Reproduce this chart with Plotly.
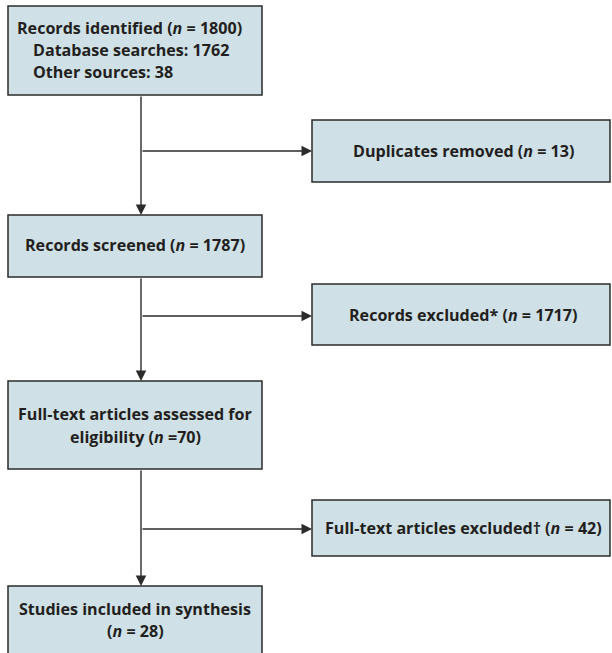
import plotly.graph_objects as go

# ---- data ----
stage_labels = ["Records identified", "Duplicates removed", "Records screened",
                "Records excluded*", "Full-text articles assessed for eligibility",
                "Full-text articles excluded\u2020", "Studies included in synthesis"]
stage_counts = [1800, 13, 1787, 1717, 70, 42, 28]
source_labels = ["Database searches", "Other sources"]
source_counts = [1762, 38]

# ---- layout geometry (pixel coordinates of the page) ----
W, H = 612, 653
FILL = "#cfe1e6"
EDGE = "#2b2b2b"
FONT = "Open Sans"
FS = 16.1
TXT = "#231f20"

main_boxes = [(8, 6, 262, 95), (8, 215, 262, 277), (8, 381, 262, 469), (8, 586, 262, 670)]
side_boxes = [(312, 120, 610, 182), (312, 284, 610, 345), (312, 500, 610, 556)]
trunk_x = 141
branch_y = [151, 316, 529]

fig = go.Figure()
fig.add_trace(go.Scatter(x=[0, W], y=[0, H], mode="markers", marker=dict(opacity=0),
                         hoverinfo="skip", showlegend=False))

for (x0, y0, x1, y1) in main_boxes + side_boxes:
    fig.add_shape(type="rect", x0=x0, y0=y0, x1=x1, y1=y1, xref="x", yref="y",
                  fillcolor=FILL, line=dict(color=EDGE, width=1.5), layer="below")

def ntext(n, sp=" "):
    return f"(<i>n</i> ={sp}{n})"

def txt(x, y, s, xanchor="center"):
    fig.add_annotation(x=x, y=y, xref="x", yref="y", text=f"<b>{s}</b>", showarrow=False,
                       xanchor=xanchor, yanchor="middle",
                       font=dict(family=FONT, size=FS, color=TXT))

# Box 1
txt(15, 28, f"{stage_labels[0]} {ntext(stage_counts[0])}", "left")
txt(31, 50, f"{source_labels[0]}: {source_counts[0]}", "left")
txt(31, 72, f"{source_labels[1]}: {source_counts[1]}", "left")
# Side boxes
txt(463, 151, f"{stage_labels[1]} {ntext(stage_counts[1])}")
txt(463, 315, f"{stage_labels[3]} {ntext(stage_counts[3])}")
txt(463, 528, f"{stage_labels[5]} {ntext(stage_counts[5])}")
# Main boxes
txt(135, 245, f"{stage_labels[2]} {ntext(stage_counts[2])}")
words = stage_labels[4].split(" ")
txt(135, 414, " ".join(words[:-1]))
txt(135, 437, f"{words[-1]} {ntext(stage_counts[4], '')}")
txt(135, 609, stage_labels[6])
txt(135, 631, ntext(stage_counts[6]))

def arrow(x0, y0, x1, y1):
    fig.add_annotation(x=x1, y=y1, ax=x0, ay=y0, xref="x", yref="y", axref="x", ayref="y",
                       text="", showarrow=True, arrowhead=2, arrowsize=1.5, arrowwidth=1.4,
                       arrowcolor=EDGE, standoff=0, startstandoff=0)

for i in range(3):
    arrow(trunk_x, main_boxes[i][3], trunk_x, main_boxes[i + 1][1])
for i in range(3):
    arrow(trunk_x, branch_y[i], side_boxes[i][0], branch_y[i])

fig.update_layout(width=W, height=H, margin=dict(l=0, r=0, t=0, b=0),
                  paper_bgcolor="white", plot_bgcolor="white",
                  xaxis=dict(range=[0, W], visible=False, fixedrange=True),
                  yaxis=dict(range=[H, 0], visible=False, fixedrange=True),
                  showlegend=False)
fig.write_html("out.html", config={"displayModeBar": False},
               post_script="document.body.style.margin='0';document.body.style.overflow='hidden';")
